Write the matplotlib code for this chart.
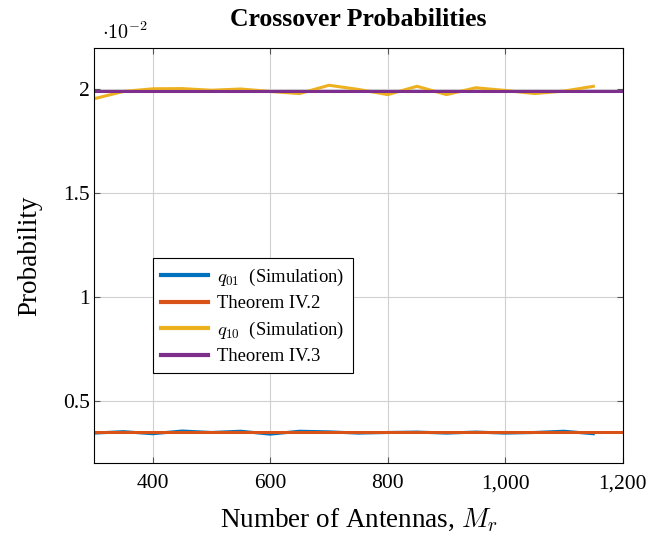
import numpy as np
from matplotlib import pyplot as plt
from matplotlib.ticker import FuncFormatter

# values in units of 1e-2
antennas = [300, 350, 400, 450, 500, 550, 600, 650, 700, 750, 800, 850, 900, 950, 1000, 1050, 1100, 1150]
q01_sim = [0.345, 0.352, 0.342, 0.355, 0.348, 0.354, 0.340, 0.354, 0.351, 0.345, 0.348, 0.350,
           0.345, 0.350, 0.345, 0.348, 0.354, 0.342]
q10_sim = [1.955, 1.990, 2.003, 2.004, 1.996, 2.002, 1.990, 1.980, 2.020, 2.000, 1.975, 2.015,
           1.975, 2.008, 1.995, 1.980, 1.992, 2.015]
theorem_x = [300, 1200]
theorem_iv2 = [0.350, 0.350]
theorem_iv3 = [1.993, 1.993]

plt.rcParams["font.family"] = ["Liberation Serif", "DejaVu Serif"]
plt.rcParams["mathtext.fontset"] = "cm"

fig = plt.figure(figsize=(6.71, 5.38), dpi=100)
ax = fig.add_axes([0.140, 0.139, 0.788, 0.772])

ax.plot(antennas, q01_sim, color="#0072BD", lw=2.2, label=r"$q_{01}$  (Simulation)")
ax.plot(theorem_x, theorem_iv2, color="#D95319", lw=2.2, label="Theorem IV.2")
ax.plot(antennas, q10_sim, color="#EDB120", lw=2.2, label=r"$q_{10}$  (Simulation)")
ax.plot(theorem_x, theorem_iv3, color="#7E2F8E", lw=2.2, label="Theorem IV.3")

ax.set_xlim(300, 1200)
ax.set_ylim(0.2, 2.2)
ax.set_xticks([400, 600, 800, 1000, 1200])
ax.set_yticks([0.5, 1, 1.5, 2])
ax.xaxis.set_major_formatter(FuncFormatter(lambda v, p: f"{int(v):,}"))
ax.yaxis.set_major_formatter(FuncFormatter(lambda v, p: f"{v:g}"))
ax.tick_params(direction="in", labelsize=15.5, length=4, top=True, right=True, color="#555555")
ax.tick_params(axis="x", pad=8)
ax.tick_params(axis="y", pad=3)
ax.grid(True, color="#d0d0d0", lw=0.8)
ax.set_axisbelow(True)
for s in ax.spines.values():
    s.set_linewidth(0.8)

ax.set_xlabel(r"Number of Antennas, $M_r$", fontsize=19.5, labelpad=10)
ax.set_ylabel("Probability", fontsize=19.5, labelpad=15)
ax.set_title("Crossover Probabilities", fontsize=18.5, fontweight="bold", pad=16)
ax.text(0.015, 1.01, r"$\cdot 10^{-2}$", transform=ax.transAxes, fontsize=14.5, ha="left", va="bottom")

leg = ax.legend(loc="upper left", bbox_to_anchor=(0.1115, 0.494), borderaxespad=0, fontsize=13.4,
                fancybox=False, edgecolor="black", framealpha=1, handlelength=2.5, handletextpad=0.5,
                borderpad=0.45, labelspacing=0.4)
for h in leg.get_lines():
    h.set_linewidth(3)
leg.get_frame().set_linewidth(0.8)

fig.savefig("out.png", dpi=100)
